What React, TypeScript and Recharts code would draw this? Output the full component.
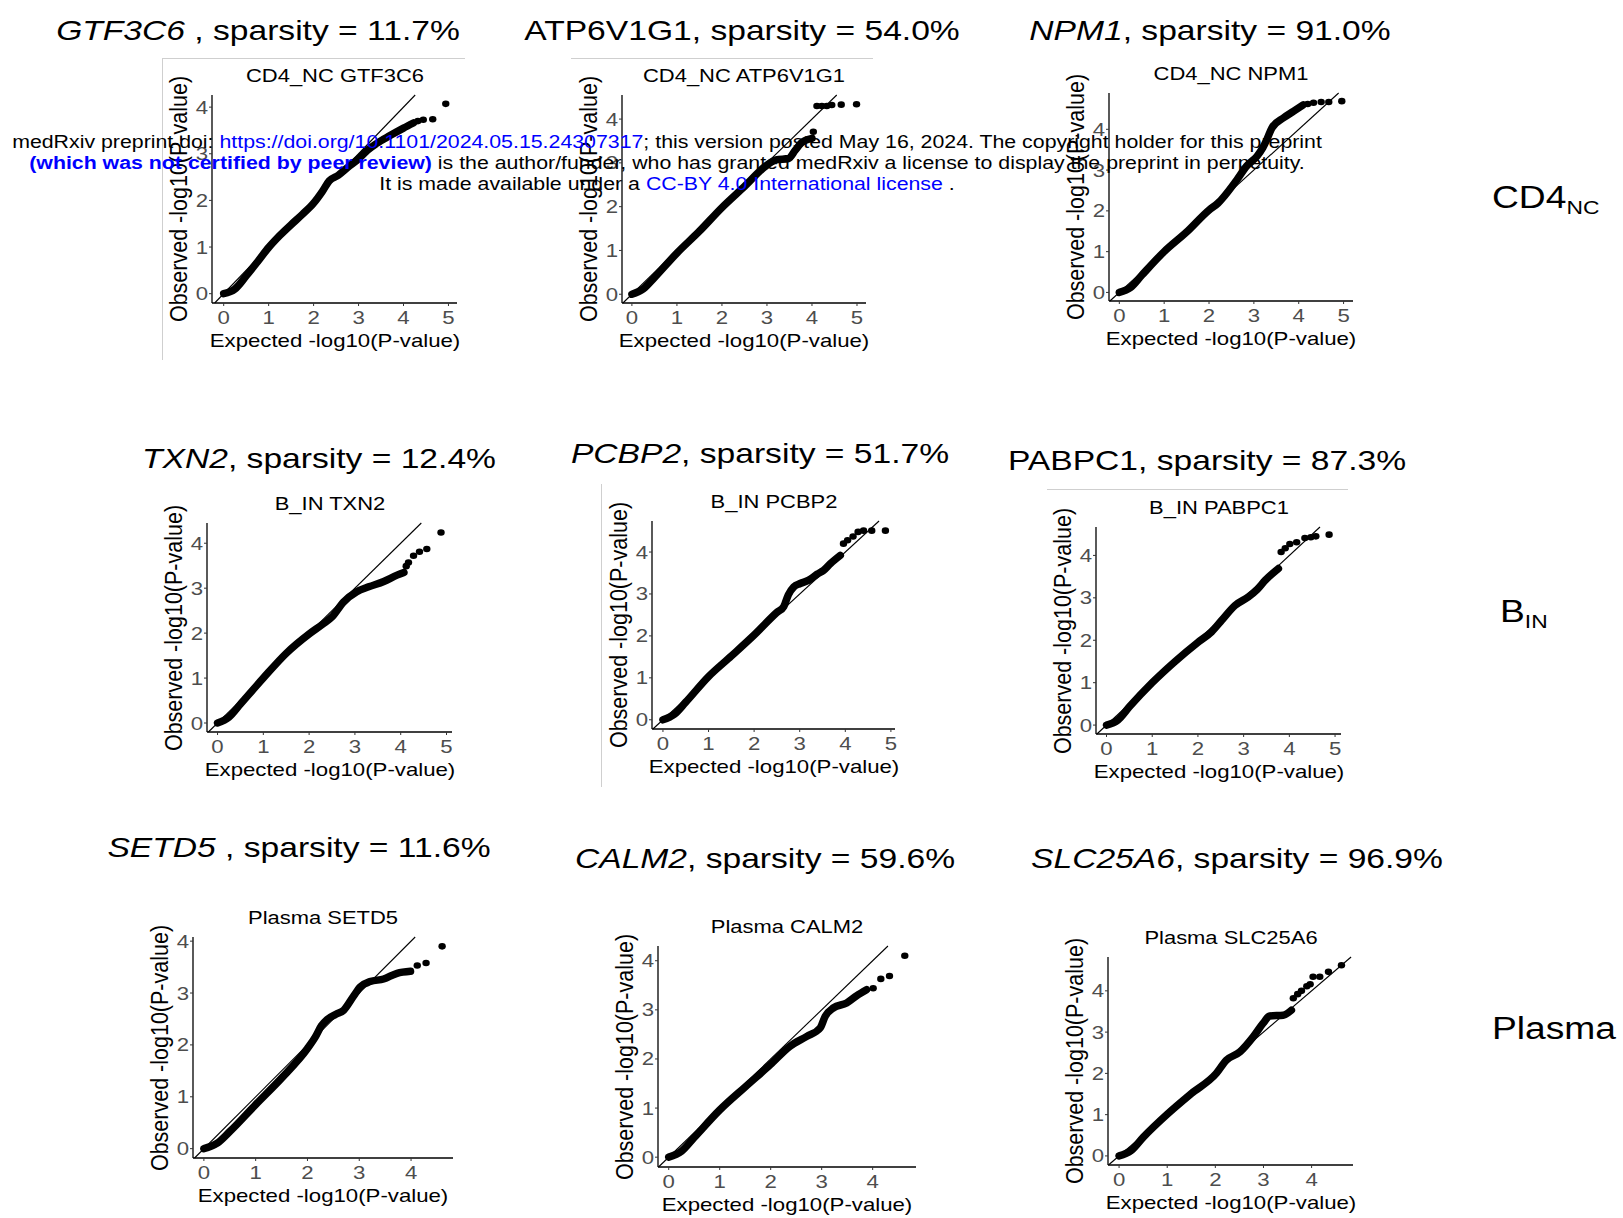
import React from "react";
import { ComposedChart, Line, Scatter, XAxis, YAxis, ReferenceLine } from "recharts";

type Pt = [number, number];

// ---- text ----
const genes = ["GTF3C6", "ATP6V1G1", "NPM1", "TXN2", "PCBP2", "PABPC1", "SETD5", "CALM2", "SLC25A6"];
const geneItalic = [true, false, true, true, true, false, true, true, true];
const geneSep = [" , ", ", ", ", ", ", ", ", ", ", ", " , ", ", ", ", "];
const sparsity = ["11.7%", "54.0%", "91.0%", "12.4%", "51.7%", "87.3%", "11.6%", "59.6%", "96.9%"];
const panelTitles = [
  "CD4_NC GTF3C6", "CD4_NC ATP6V1G1", "CD4_NC NPM1",
  "B_IN TXN2", "B_IN PCBP2", "B_IN PABPC1",
  "Plasma SETD5", "Plasma CALM2", "Plasma SLC25A6",
];
const cellTypes = ["CD4", "B", "Plasma"];
const cellSubs = ["NC", "IN", ""];
const xLabel = "Expected -log10(P-value)";
const yLabel = "Observed -log10(P-value)";

const xTicks5 = [0, 1, 2, 3, 4, 5];
const xTicks4 = [0, 1, 2, 3, 4];
const yTicks = [0, 1, 2, 3, 4];

// ---- QQ values: dense band + separate top points ----
const gtf3c6Curve: Pt[] = [[0, 0], [0.25, 0.1], [0.5, 0.38], [0.75, 0.68], [1, 0.99], [1.25, 1.25], [1.5, 1.48], [1.75, 1.7], [2, 1.94], [2.2, 2.2], [2.35, 2.42], [2.55, 2.54], [2.8, 2.74], [3.0, 2.89], [3.2, 3.08], [3.4, 3.22], [3.7, 3.39], [4.0, 3.55], [4.22, 3.66]];
const gtf3c6Tail: Pt[] = [[4.32, 3.7], [4.44, 3.73], [4.65, 3.74], [4.94, 4.07]];

const atp6v1g1Curve: Pt[] = [[0, 0], [0.25, 0.12], [0.5, 0.38], [1, 0.94], [1.5, 1.44], [2, 1.98], [2.5, 2.46], [3, 2.95], [3.2, 3.07], [3.48, 3.1], [3.63, 3.29], [3.77, 3.46], [4.0, 3.56]];
const atp6v1g1Tail: Pt[] = [[4.03, 3.71], [4.11, 4.3], [4.22, 4.3], [4.33, 4.3], [4.44, 4.32], [4.65, 4.33], [4.99, 4.34]];

const npm1Curve: Pt[] = [[0, 0], [0.25, 0.12], [0.5, 0.42], [1, 1.0], [1.5, 1.48], [2, 2.02], [2.2, 2.19], [2.62, 2.76], [2.84, 3.1], [3.07, 3.34], [3.2, 3.55], [3.29, 3.75], [3.4, 4.03], [3.66, 4.28], [3.88, 4.44], [4.1, 4.6]];
const npm1Tail: Pt[] = [[4.2, 4.62], [4.33, 4.65], [4.5, 4.67], [4.67, 4.67], [4.96, 4.69]];

const txn2Curve: Pt[] = [[0, 0], [0.25, 0.13], [0.5, 0.42], [1, 1.0], [1.5, 1.55], [2, 1.98], [2.3, 2.2], [2.5, 2.36], [2.75, 2.69], [3.04, 2.92], [3.3, 3.03], [3.63, 3.15], [3.92, 3.29], [4.07, 3.35]];
const txn2Tail: Pt[] = [[4.12, 3.49], [4.17, 3.57], [4.28, 3.72], [4.41, 3.81], [4.57, 3.87], [4.88, 4.24]];

const pcbp2Curve: Pt[] = [[0, 0], [0.25, 0.13], [0.5, 0.42], [1, 1.03], [1.5, 1.52], [2, 2.02], [2.5, 2.56], [2.65, 2.7], [2.75, 2.98], [2.87, 3.17], [3.01, 3.25], [3.2, 3.33], [3.38, 3.47], [3.52, 3.56], [3.67, 3.72], [3.89, 3.92]];
const pcbp2Tail: Pt[] = [[3.96, 4.2], [4.05, 4.28], [4.17, 4.37], [4.28, 4.48], [4.4, 4.51], [4.58, 4.51], [4.88, 4.51]];

const pabpc1Curve: Pt[] = [[0, 0], [0.25, 0.12], [0.5, 0.43], [1, 1.0], [1.5, 1.5], [2, 1.95], [2.3, 2.2], [2.52, 2.47], [2.81, 2.82], [3.1, 3.02], [3.3, 3.2], [3.47, 3.41], [3.76, 3.69]];
const pabpc1Tail: Pt[] = [[3.82, 4.08], [3.91, 4.17], [4.01, 4.27], [4.16, 4.31], [4.34, 4.41], [4.47, 4.43], [4.58, 4.45], [4.87, 4.49]];

const setd5Curve: Pt[] = [[0, 0], [0.25, 0.1], [0.5, 0.33], [1, 0.85], [1.5, 1.36], [2, 1.93], [2.15, 2.15], [2.27, 2.37], [2.38, 2.49], [2.55, 2.59], [2.7, 2.67], [2.89, 2.94], [3.02, 3.12], [3.21, 3.22], [3.47, 3.27], [3.73, 3.38], [3.99, 3.42]];
const setd5Tail: Pt[] = [[4.12, 3.53], [4.29, 3.58], [4.6, 3.9]];

const calm2Curve: Pt[] = [[0, 0], [0.25, 0.12], [0.5, 0.4], [1, 0.96], [1.5, 1.43], [1.99, 1.88], [2.38, 2.26], [2.71, 2.46], [2.97, 2.63], [3.07, 2.87], [3.23, 3.04], [3.49, 3.14], [3.69, 3.29], [3.88, 3.41]];
const calm2Tail: Pt[] = [[4.01, 3.44], [4.16, 3.63], [4.33, 3.69], [4.63, 4.1]];

const slc25a6Curve: Pt[] = [[0, 0], [0.25, 0.13], [0.5, 0.45], [1, 1.01], [1.5, 1.51], [2.02, 2.0], [2.23, 2.32], [2.51, 2.52], [2.79, 2.89], [2.99, 3.21], [3.13, 3.39], [3.41, 3.41], [3.58, 3.53]];
const slc25a6Tail: Pt[] = [[3.62, 3.82], [3.71, 3.92], [3.79, 4.0], [3.9, 4.11], [3.97, 4.16], [4.03, 4.34], [4.17, 4.34], [4.35, 4.46], [4.62, 4.62]];

const curves = [gtf3c6Curve, atp6v1g1Curve, npm1Curve, txn2Curve, pcbp2Curve, pabpc1Curve, setd5Curve, calm2Curve, slc25a6Curve];
const tails = [gtf3c6Tail, atp6v1g1Tail, npm1Tail, txn2Tail, pcbp2Tail, pabpc1Tail, setd5Tail, calm2Tail, slc25a6Tail];

// ---- layout (page px): plot box [left, right, top, bottom], axis ranges, headline centre ----
const layout = [
  { box: [212, 457, 95, 303], xDom: [-0.26, 5.19], yDom: [-0.2, 4.26], head: [257.5, 31] },
  { box: [622, 866, 95, 303], xDom: [-0.22, 5.2], yDom: [-0.2, 4.55], head: [742, 31] },
  { box: [1109, 1353, 93, 301], xDom: [-0.23, 5.21], yDom: [-0.21, 4.89], head: [1210, 31] },
  { box: [207, 452, 523, 732], xDom: [-0.23, 5.12], yDom: [-0.2, 4.45], head: [318.5, 459] },
  { box: [652, 895, 521, 729], xDom: [-0.24, 5.09], yDom: [-0.22, 4.74], head: [759.5, 453.5] },
  { box: [1096, 1341, 527, 734], xDom: [-0.23, 5.13], yDom: [-0.21, 4.67], head: [1206.5, 461] },
  { box: [193, 453, 937, 1158], xDom: [-0.21, 4.81], yDom: [-0.18, 4.08], head: [299, 848] },
  { box: [658, 916, 946, 1167], xDom: [-0.21, 4.85], yDom: [-0.2, 4.3], head: [765, 859] },
  { box: [1108, 1353, 957, 1165], xDom: [-0.23, 4.86], yDom: [-0.22, 4.82], head: [1236.5, 859] },
];
const rowLabelPos = [[1492, 197], [1500, 611], [1492, 1028]];

const FONT = '"Liberation Sans", Arial, Helvetica, sans-serif';
const SX = 1.2; // source figure is stretched horizontally

const pts = (a: Pt[]) => a.map(([x, y]) => ({ x, y }));

const XTick = (props: any) => {
  const { x, y, payload } = props;
  return (
    <text transform={`translate(${x},${y}) scale(${SX},1)`} dy={16.4} textAnchor="middle" fill="#4D4D4D" fontSize={18.5} fontFamily={FONT}>
      {payload.value}
    </text>
  );
};

const YTick = (props: any) => {
  const { x, y, payload } = props;
  return (
    <text transform={`translate(${x},${y}) scale(${SX},1)`} dy={6.5} textAnchor="end" fill="#4D4D4D" fontSize={18.5} fontFamily={FONT}>
      {payload.value}
    </text>
  );
};

const TailDot = (props: any) => <ellipse cx={props.cx} cy={props.cy} rx={3.7} ry={3.3} fill="#000" />;

function QQPanel({ k }: { k: number }) {
  const { box, xDom, yDom } = layout[k];
  const [L, R, T, B] = box;
  const padL = 60, padT = 40, padR = 12, padB = 50;
  const w = R - L + padL + padR;
  const h = B - T + padT + padB;
  const lo = Math.max(xDom[0], yDom[0]);
  const hi = Math.min(xDom[1], yDom[1]);
  const axisLine = { stroke: "#000", strokeWidth: 1.3 };
  const tickLine = { stroke: "#333", strokeWidth: 1 };
  return (
    <>
      <div style={{ position: "absolute", left: L - padL, top: T - padT }}>
        <ComposedChart width={w} height={h} margin={{ top: padT, right: padR, bottom: 0, left: padL - 45 }}>
          <XAxis
            type="number"
            dataKey="x"
            domain={xDom}
            allowDataOverflow
            ticks={k < 6 ? xTicks5 : xTicks4}
            interval={0}
            height={padB}
            tick={XTick}
            tickSize={3}
            tickMargin={2}
            axisLine={axisLine}
            tickLine={tickLine}
          />
          <YAxis
            type="number"
            dataKey="y"
            domain={yDom}
            allowDataOverflow
            ticks={yTicks}
            interval={0}
            width={45}
            tick={YTick}
            tickSize={3}
            tickMargin={1}
            axisLine={axisLine}
            tickLine={tickLine}
          />
          <Line
            data={pts(curves[k])}
            dataKey="y"
            type="monotone"
            stroke="#000"
            strokeWidth={7.5}
            strokeLinecap="round"
            strokeLinejoin="round"
            dot={false}
            activeDot={false}
            isAnimationActive={false}
          />
          <Scatter data={pts(tails[k])} dataKey="y" fill="#000" shape={TailDot} isAnimationActive={false} />
          <ReferenceLine segment={[{ x: lo, y: lo }, { x: hi, y: hi }]} stroke="#000" strokeWidth={1.1} ifOverflow="visible" />
        </ComposedChart>
      </div>
      {/* panel title */}
      <div style={{ position: "absolute", left: (L + R) / 2, top: T - 19.5 - 0.488 * 18.3, fontSize: 18.3, lineHeight: 1, whiteSpace: "nowrap", transform: `translateX(-50%) scaleX(${SX})` }}>
        {panelTitles[k]}
      </div>
      {/* x axis title */}
      <div style={{ position: "absolute", left: (L + R) / 2, top: B + 37.9 - 0.488 * 18.5, fontSize: 18.5, lineHeight: 1, whiteSpace: "nowrap", transform: `translateX(-50%) scaleX(${SX})` }}>
        {xLabel}
      </div>
      {/* y axis title */}
      <div style={{ position: "absolute", left: L - 32, top: (T + B) / 2, fontSize: 21.5, lineHeight: 1, whiteSpace: "nowrap", transform: "translate(-50%,-50%) rotate(-90deg) scaleY(1.15)" }}>
        {yLabel}
      </div>
    </>
  );
}

function Headline({ k }: { k: number }) {
  const [cx, cy] = layout[k].head;
  return (
    <div style={{ position: "absolute", left: cx, top: cy - 0.488 * 28, fontSize: 28, lineHeight: 1, whiteSpace: "nowrap", transform: `translateX(-50%) scaleX(${SX})` }}>
      <span style={{ fontStyle: geneItalic[k] ? "italic" : "normal" }}>{genes[k]}</span>
      {geneSep[k]}sparsity = {sparsity[k]}
    </div>
  );
}

function RowLabel({ r }: { r: number }) {
  const [x, cy] = rowLabelPos[r];
  return (
    <div style={{ position: "absolute", left: x, top: cy - 0.488 * 31, fontSize: 31, lineHeight: 1, whiteSpace: "nowrap", transform: `scaleX(${SX})`, transformOrigin: "left center" }}>
      {cellTypes[r]}
      <span style={{ fontSize: 19, position: "relative", top: 6 }}>{cellSubs[r]}</span>
    </div>
  );
}

const blue = { color: "#0000FF" };

function Watermark() {
  const line = (cy: number): React.CSSProperties => ({
    position: "absolute", left: 667, top: cy - 0.488 * 17.5, fontSize: 17.5, lineHeight: 1,
    whiteSpace: "nowrap", transform: "translateX(-50%) scaleX(1.218)",
  });
  return (
    <>
      <div style={line(143)}>
        medRxiv preprint doi: <span style={blue}>https://doi.org/10.1101/2024.05.15.24307317</span>; this version posted May 16, 2024. The copyright holder for this preprint
      </div>
      <div style={line(164)}>
        <span style={{ ...blue, fontWeight: "bold" }}>(which was not certified by peer review)</span> is the author/funder, who has granted medRxiv a license to display the preprint in perpetuity.
      </div>
      <div style={line(185)}>
        It is made available under a <span style={blue}>CC-BY 4.0 International license</span> .
      </div>
    </>
  );
}

const edge = "#cfcfcf";

export default function App() {
  return (
    <div style={{ position: "absolute", left: 0, top: 0, width: 1623, height: 1218, background: "#fff", overflow: "hidden", fontFamily: FONT, color: "#000" }}>
      {/* faint borders of the pasted panel images */}
      <div style={{ position: "absolute", left: 162, top: 58, width: 303, height: 1, background: edge }} />
      <div style={{ position: "absolute", left: 162, top: 58, width: 1, height: 302, background: edge }} />
      <div style={{ position: "absolute", left: 571, top: 58, width: 302, height: 1, background: edge }} />
      <div style={{ position: "absolute", left: 601, top: 484, width: 1, height: 303, background: edge }} />
      <div style={{ position: "absolute", left: 1047, top: 489, width: 301, height: 1, background: edge }} />
      {layout.map((_, k) => (
        <QQPanel key={"p" + k} k={k} />
      ))}
      {layout.map((_, k) => (
        <Headline key={"h" + k} k={k} />
      ))}
      {cellTypes.map((_, r) => (
        <RowLabel key={"r" + r} r={r} />
      ))}
      <Watermark />
    </div>
  );
}
